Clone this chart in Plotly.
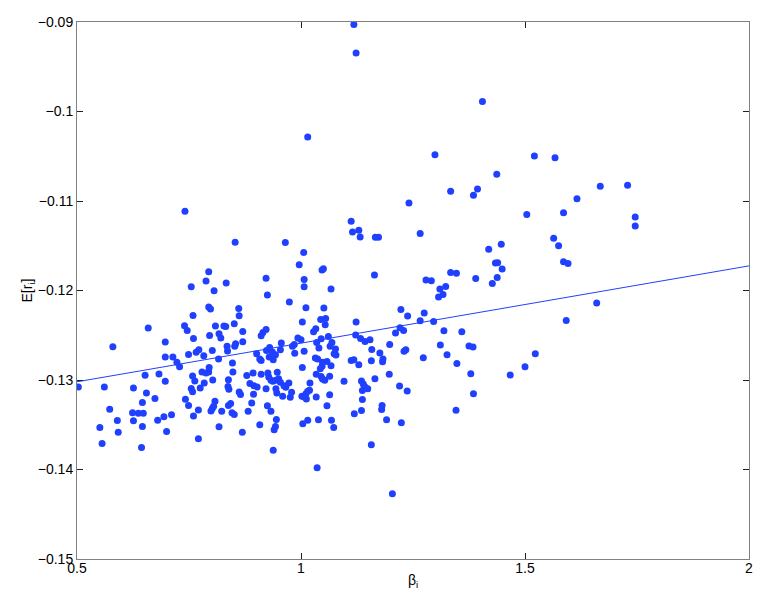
import plotly.graph_objects as go

# beta_i vs E[r_i]
beta_i = [
    0.794, 0.798, 0.759, 0.740, 0.746, 0.809, 0.828, 0.832, 0.659, 0.796,
    0.817, 0.821, 0.760, 0.697, 0.580, 0.835, 0.836, 0.766, 0.772, 0.802,
    0.749, 0.783, 0.697, 0.714, 0.816, 0.723, 0.729, 0.779, 0.788, 0.794,
    0.795, 0.652, 0.683, 0.758, 0.763, 0.803, 0.697, 0.784, 0.838, 0.503,
    0.561, 0.626, 0.755, 0.758, 0.775, 0.837, 0.839, 0.655, 0.674, 0.742,
    0.646, 0.808, 0.749, 0.805, 0.802, 0.799, 0.838, 0.573, 0.771, 0.823,
    0.624, 0.637, 0.648, 0.711, 0.694, 0.760, 0.590, 0.626, 0.680, 0.551,
    0.646, 0.817, 0.592, 0.700, 0.556, 0.771, 0.644,
    0.974, 0.861, 1.011, 1.051, 0.862, 1.044, 1.055, 1.003, 0.851, 1.054,
    1.123, 0.870, 1.033, 1.028, 0.922, 0.915, 0.911, 1.122, 1.061, 1.045,
    0.993, 1.000, 1.133, 1.143, 1.154, 0.870, 0.854, 0.852, 1.035, 1.069,
    1.065, 0.956, 0.985, 0.981, 0.930, 0.923, 0.936, 0.954, 1.040, 1.077,
    1.074, 1.078, 1.158, 1.007, 0.986, 0.901, 0.943, 1.176, 0.908, 0.911,
    0.929, 0.938, 1.032, 1.037, 1.112, 1.118, 1.157, 1.048, 1.058, 1.067,
    0.847, 1.129, 1.003, 1.043, 1.047, 0.848, 0.893, 0.879, 0.911, 0.926,
    0.947, 1.034, 1.045, 1.048, 1.053, 1.064, 0.928, 0.933, 0.937, 0.944,
    0.950, 1.096, 1.135, 1.139, 1.143, 1.165, 0.886, 0.895, 0.902, 0.954,
    0.962, 0.966, 0.973, 1.020, 0.922, 0.944, 0.946, 0.979, 1.019, 1.015,
    1.011, 1.149, 1.137, 0.862, 0.865, 0.894, 0.959, 0.976, 1.002, 1.007,
    1.012, 1.034, 1.064, 1.137, 0.890, 0.843, 1.058, 0.925, 0.933, 0.882,
    1.181, 1.180, 1.135, 1.119, 0.846, 0.851, 0.945, 1.015, 1.004, 1.039,
    1.068, 1.073, 0.908, 0.943, 0.940, 0.869, 0.938, 1.157, 1.036,
    1.223, 1.238, 1.275, 1.266, 1.296, 1.221, 1.229, 1.211, 1.319, 1.359,
    1.198, 1.311, 1.375, 1.384, 1.230, 1.234, 1.326, 1.523, 1.183, 1.182,
    1.273, 1.348, 1.379, 1.197, 1.467, 1.500, 1.220, 1.237, 1.385, 1.346,
    1.191, 1.224,
    0.741, 0.794, 0.788, 0.755, 0.806, 0.833,
    1.112, 1.115, 1.129, 1.132, 1.166, 1.173, 0.853, 0.965, 1.006, 0.996,
    1.047, 1.050, 1.164, 0.922, 1.007, 1.007, 0.925, 1.067,
    1.299, 1.521, 1.567, 1.437, 1.334, 1.394, 1.385, 1.241, 1.616, 1.504,
    1.586, 1.266, 1.564, 1.575, 1.419, 1.447, 1.434, 1.439, 1.449, 1.586,
    1.596, 1.279, 1.291, 1.334, 1.347, 1.390, 1.438, 1.427, 1.310, 1.323,
    1.317, 1.307,
    1.668, 1.729, 1.746, 1.746, 1.660, 1.592,
    1.118, 1.123, 1.405, 1.015, 1.204,
]

mean_return = [
    -0.12185, -0.12207, -0.12279, -0.12394, -0.12446, -0.12397, -0.12397, -0.12401, -0.12419, -0.12502,
    -0.12483, -0.12531, -0.12535, -0.12575, -0.12628, -0.12624, -0.12676, -0.12691, -0.12661, -0.12669,
    -0.12714, -0.12728, -0.12743, -0.12743, -0.12765, -0.12803, -0.12851, -0.12910, -0.12921, -0.12910,
    -0.12859, -0.12948, -0.12932, -0.12955, -0.13010, -0.12999, -0.13015, -0.13033, -0.12996, -0.13077,
    -0.13077, -0.13088, -0.13096, -0.13130, -0.13088, -0.13074, -0.13104, -0.13144, -0.13208, -0.13215,
    -0.13252, -0.13238, -0.13286, -0.13294, -0.13319, -0.13345, -0.13286, -0.13327, -0.13334, -0.13349,
    -0.13367, -0.13372, -0.13372, -0.13389, -0.13412, -0.13401, -0.13453, -0.13456, -0.13450, -0.13531,
    -0.13520, -0.13523, -0.13583, -0.13576, -0.13710, -0.13657, -0.13754,
    -0.12129, -0.12201, -0.12193, -0.12196, -0.12282, -0.12323, -0.12312, -0.12352, -0.12371, -0.12382,
    -0.12352, -0.12457, -0.12427, -0.12460, -0.12435, -0.12468, -0.12505, -0.12497, -0.12513, -0.12539,
    -0.12531, -0.12550, -0.12535, -0.12569, -0.12550, -0.12572, -0.12594, -0.12624, -0.12580, -0.12580,
    -0.12624, -0.12587, -0.12602, -0.12624, -0.12636, -0.12669, -0.12687, -0.12661, -0.12642, -0.12653,
    -0.12706, -0.12720, -0.12658, -0.12680, -0.12702, -0.12706, -0.12717, -0.12698, -0.12765, -0.12781,
    -0.12743, -0.12773, -0.12754, -0.12765, -0.12781, -0.12773, -0.12784, -0.12803, -0.12792, -0.12840,
    -0.12810, -0.12829, -0.12859, -0.12873, -0.12847, -0.12910, -0.12921, -0.12951, -0.12937, -0.12921,
    -0.12914, -0.12937, -0.12962, -0.12988, -0.13004, -0.12959, -0.12966, -0.13004, -0.13015, -0.13004,
    -0.12985, -0.13015, -0.13010, -0.13044, -0.13077, -0.12985, -0.13040, -0.13063, -0.13077, -0.13026,
    -0.13063, -0.13082, -0.13033, -0.13033, -0.13099, -0.13099, -0.13144, -0.13137, -0.13115, -0.13126,
    -0.13155, -0.13099, -0.13118, -0.13133, -0.13163, -0.13160, -0.13182, -0.13193, -0.13182, -0.13189,
    -0.13211, -0.13189, -0.13166, -0.13219, -0.13256, -0.13263, -0.13289, -0.13289, -0.13349, -0.13349,
    -0.13286, -0.13330, -0.13341, -0.13378, -0.13367, -0.13386, -0.13442, -0.13450, -0.13490, -0.13445,
    -0.13450, -0.13531, -0.13501, -0.13520, -0.13557, -0.13583, -0.13784, -0.13724, -0.13981,
    -0.12212, -0.12285, -0.12252, -0.12338, -0.12346, -0.12416, -0.12446, -0.12475, -0.12449, -0.12460,
    -0.12602, -0.12609, -0.12620, -0.12631, -0.12680, -0.12661, -0.12717, -0.12706, -0.12765, -0.12795,
    -0.12750, -0.12817, -0.12929, -0.12937, -0.12943, -0.12851, -0.13066, -0.13122, -0.13155, -0.13338,
    -0.13445, -0.13479,
    -0.11114, -0.11791, -0.11895, -0.11959, -0.12003, -0.11917,
    -0.11226, -0.11345, -0.11326, -0.11401, -0.11404, -0.11404, -0.11460, -0.11465, -0.11576, -0.11713,
    -0.11772, -0.11758, -0.11828, -0.11862, -0.11877, -0.11959, -0.12051, -0.11984,
    -0.10483, -0.10498, -0.10517, -0.10702, -0.10891, -0.10866, -0.10936, -0.11022, -0.10974, -0.11152,
    -0.11130, -0.11364, -0.11416, -0.11501, -0.11538, -0.11482, -0.11694, -0.11691, -0.11761, -0.11680,
    -0.11699, -0.11884, -0.11892, -0.11799, -0.11806, -0.11866, -0.11855, -0.11922, -0.11984, -0.11955,
    -0.12044, -0.12074,
    -0.10836, -0.10824, -0.11178, -0.11278, -0.12140, -0.12334,
    -0.09029, -0.09346, -0.09888, -0.10286, -0.14271,
]

# fitted line end points
fit_beta = [0.5, 2.0]
fit_return = [-0.1302, -0.11725]

x_ticks = [0.5, 1, 1.5, 2]
x_tick_text = ["0.5", "1", "1.5", "2"]
y_ticks = [-0.15, -0.14, -0.13, -0.12, -0.11, -0.10, -0.09]
y_tick_text = ["\u22120.15", "\u22120.14", "\u22120.13", "\u22120.12", "\u22120.11", "\u22120.1", "\u22120.09"]

BLUE = "#2040ff"

fig = go.Figure()
fig.add_trace(go.Scatter(x=beta_i, y=mean_return, mode="markers",
                         marker=dict(color=BLUE, size=7, line=dict(width=0)),
                         showlegend=False))
fig.add_trace(go.Scatter(x=fit_beta, y=fit_return, mode="lines",
                         line=dict(color=BLUE, width=1), showlegend=False))

axis_style = dict(showgrid=False, zeroline=False, showline=True, mirror="allticks",
                  linecolor="#808080", linewidth=1, ticks="inside", ticklen=6,
                  tickcolor="#202020", tickfont=dict(size=14, color="#000000"))

fig.update_layout(
    width=763, height=604,
    margin=dict(l=77, r=10, t=22, b=45),
    plot_bgcolor="white", paper_bgcolor="white",
    font=dict(family="Liberation Sans, Arial, sans-serif", size=14, color="#000000"),
    xaxis=dict(range=[0.5, 2], tickvals=x_ticks, ticktext=x_tick_text,
               ticklabelstandoff=-4,
               title=dict(text="\u03b2<sub>i</sub>", standoff=0, font=dict(size=14)),
               **axis_style),
    yaxis=dict(range=[-0.15, -0.09], tickvals=y_ticks, ticktext=y_tick_text,
               title=dict(text="E[r<sub>i</sub>]", standoff=1, font=dict(size=14)),
               **axis_style),
)

# drop the default body margin so the figure fills the window exactly
fig.write_html("out.html", config={"displayModeBar": False},
               post_script="document.body.style.margin='0';document.body.style.overflow='hidden';")
